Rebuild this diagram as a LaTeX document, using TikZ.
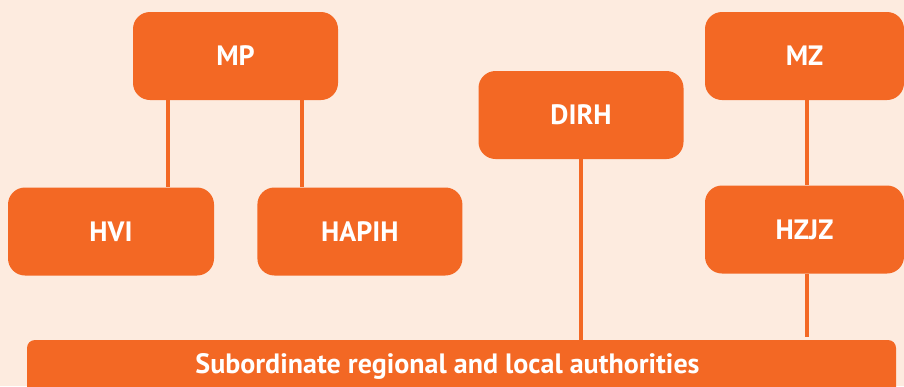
\documentclass[tikz,border=0pt]{standalone}
\usepackage{fontspec}
\setmainfont{PT Sans}
\usetikzlibrary{positioning}
\definecolor{orgorange}{HTML}{F36824}
\definecolor{orgbg}{HTML}{FDEBDF}
\tikzset{
  unit/.style={rectangle, rounded corners=17pt, fill=orgorange, text=white,
    font=\bfseries\fontsize{28}{32}\selectfont, minimum width=205pt,
    minimum height=88pt, inner sep=0pt},
  link/.style={draw=orgorange, line width=4pt}
}
\begin{document}
\begin{tikzpicture}[x=1pt,y=-1pt]
\fill[orgbg] (0,0) rectangle (904,386);
\useasboundingbox (0,0) rectangle (904,386);
\clip (0,0) rectangle (904,386);

% ministries and institutes
\node[unit] (mp) at (235.5,56) {MP};
\node[unit, minimum width=206pt] (hvi) at (111,231.5) {HVI};
\node[unit] (hapih) [right=43pt of hvi] {HAPIH};
\node[unit] (dirh) at (581,115) {DIRH};
\node[unit, minimum width=199pt] (mz) at (804.5,56) {MZ};
\node[unit, minimum width=199pt] (hzjz) at (804.5,229.5) {HZJZ};
\node[unit, rounded corners=8pt, minimum width=869pt, minimum height=60pt,
  text height=20pt, text depth=14pt] (local) at (461.5,370)
  {Subordinate regional and local authorities\hspace*{28pt}};

\draw[link] ([xshift=-67.5pt]mp.south) -- ([xshift=-67.5pt]mp.south |- hvi.north);
\draw[link] ([xshift=66.5pt]mp.south) -- ([xshift=66.5pt]mp.south |- hapih.north);
\draw[link] (dirh.south) -- (dirh.south |- local.north);
\draw[link] ([xshift=2.5pt]mz.south) -- ([xshift=2.5pt]hzjz.north);
\draw[link] ([xshift=2.5pt]hzjz.south) -- ([xshift=2.5pt,yshift=3pt]hzjz.south |- local.north);
\end{tikzpicture}
\end{document}
